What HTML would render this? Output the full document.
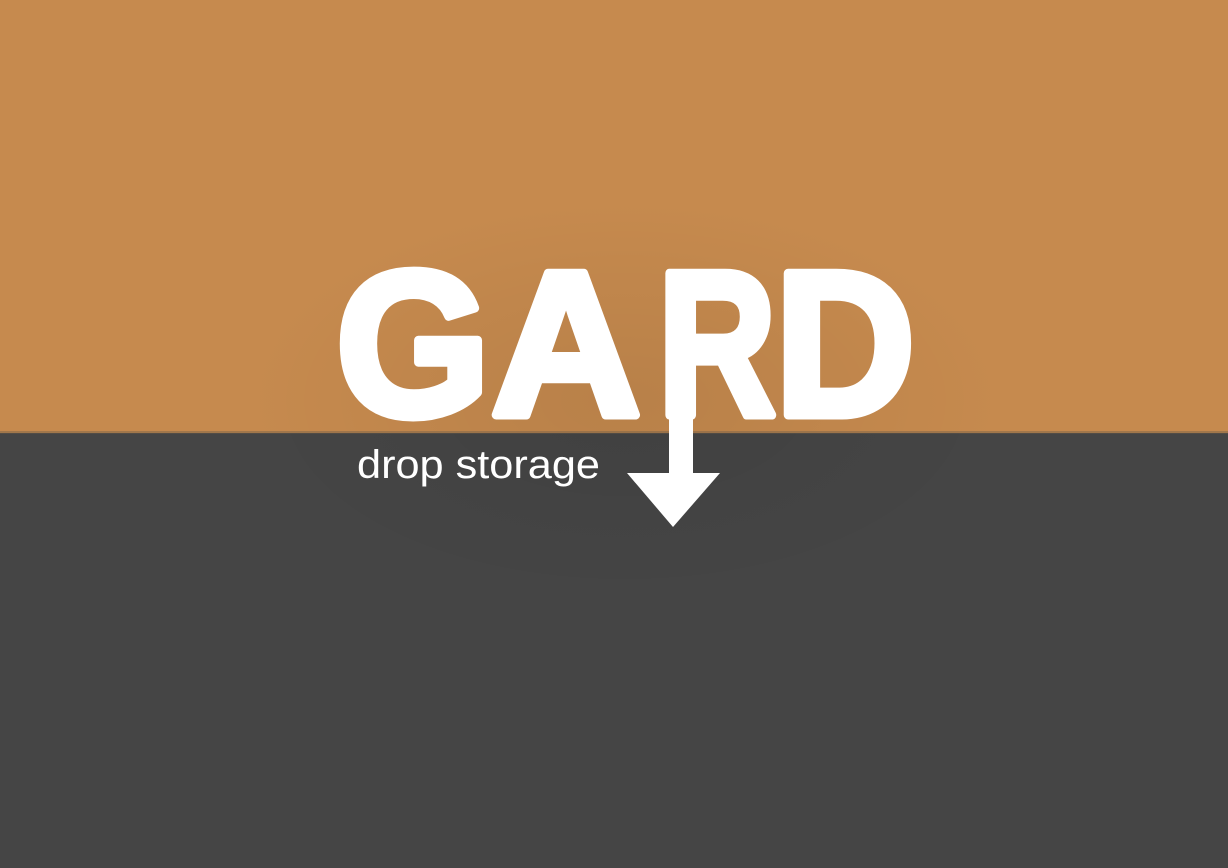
<!DOCTYPE html>
<html>
<head>
<meta charset="utf-8">
<style>
  html,body{margin:0;padding:0;width:1228px;height:868px;overflow:hidden;background:#454545;}
  svg{display:block;}
</style>
</head>
<body>
<svg width="1228" height="868" viewBox="0 0 1228 868" xmlns="http://www.w3.org/2000/svg">
  <defs>
    <radialGradient id="glow" cx="0.5" cy="0.5" r="0.5">
      <stop offset="0" stop-color="#000" stop-opacity="0.07"/>
      <stop offset="1" stop-color="#000" stop-opacity="0"/>
    </radialGradient>
  </defs>
  <rect x="0" y="0" width="1228" height="433" fill="#C68A4E"/>
  <rect x="0" y="433" width="1228" height="435" fill="#454545"/>
  <ellipse cx="625" cy="400" rx="380" ry="200" fill="url(#glow)"/>
  <rect x="0" y="431" width="1228" height="3" fill="#6a5a48" opacity="0.4"/>
  <g font-family="'Liberation Sans', sans-serif" font-weight="bold" font-size="206" fill="#ffffff" stroke="#ffffff" stroke-width="9" stroke-linejoin="round">
    <text x="336" y="415" textLength="154" lengthAdjust="spacingAndGlyphs">G</text>
    <text x="491" y="415" textLength="150" lengthAdjust="spacingAndGlyphs">A</text>
    <text x="658" y="415" textLength="118" lengthAdjust="spacingAndGlyphs">R</text>
    <text x="775" y="415" textLength="140" lengthAdjust="spacingAndGlyphs">D</text>
  </g>
  <g fill="#ffffff">
    <rect x="669" y="360" width="24" height="116"/>
    <polygon points="627,473 720,473 673,527"/>
  </g>
  <text x="357" y="478" font-family="'Liberation Sans', sans-serif" font-size="40" fill="#ffffff" textLength="243" lengthAdjust="spacingAndGlyphs">drop storage</text>
</svg>
</body>
</html>
